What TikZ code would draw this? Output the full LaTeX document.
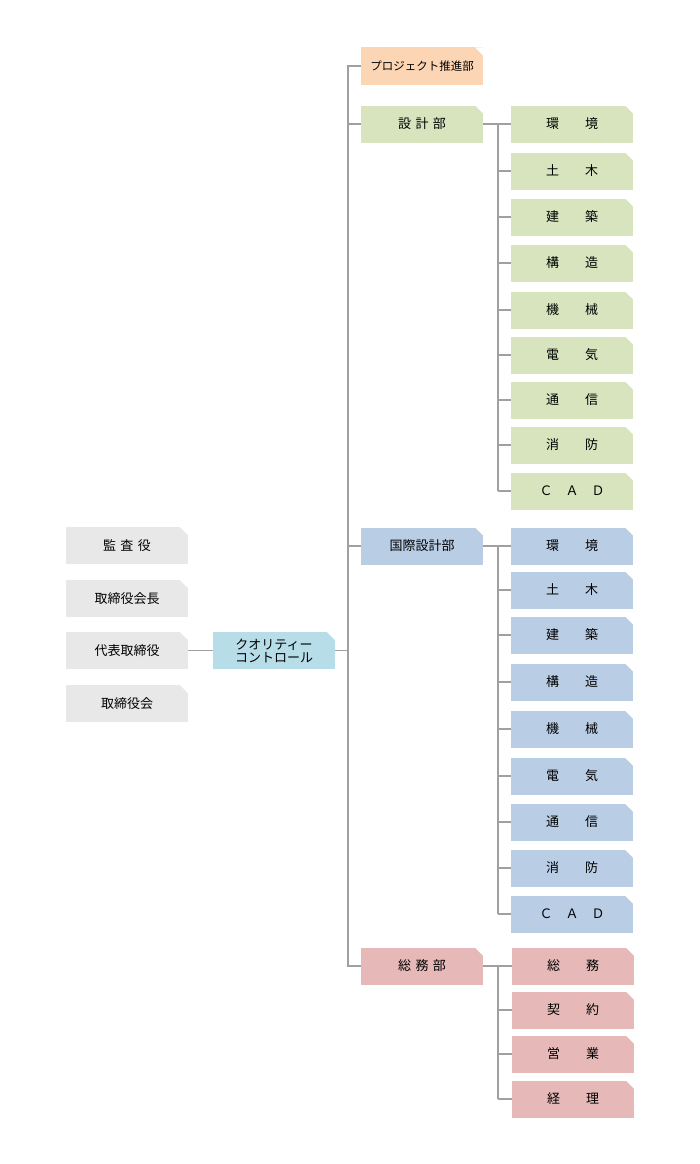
\documentclass[tikz,border=0pt]{standalone}
\usepackage{fontspec}
\setmainfont{Noto Sans CJK JP}
\begin{document}
\begin{tikzpicture}[x=1pt,y=-1pt,
  bx/.style={draw=none,minimum width=122pt,minimum height=37pt,inner sep=0pt,font=\fontsize{13}{15}\selectfont,
    path picture={\fill[white] ([xshift=-8pt]path picture bounding box.north east) -- (path picture bounding box.north east) -- ([yshift=-8pt]path picture bounding box.north east) -- cycle;}},
  gr/.style={bx,fill=gray!18},
  qc/.style={bx,fill=cyan!25!blue!8!white,fill={rgb,255:red,183;green,221;blue,232}},
  orn/.style={bx,fill={rgb,255:red,252;green,213;blue,180}},
  grn/.style={bx,fill={rgb,255:red,215;green,228;blue,190}},
  blu/.style={bx,fill={rgb,255:red,185;green,205;blue,229}},
  pnk/.style={bx,fill={rgb,255:red,230;green,185;blue,184}},
  ln/.style={draw={rgb,255:red,160;green,160;blue,160},line width=1.6pt}]
\useasboundingbox (0,0) rectangle (700,1164);
\node[gr] (g1) at (127,545.5) {監\,\,査\,\,役};
\node[gr] (g2) at (127,598.5) {取締役会長};
\node[gr] (g3) at (127,650.5) {代表取締役};
\node[gr] (g4) at (127,703.5) {取締役会};
\node[qc,align=center,font=\fontsize{13}{13}\selectfont] (qc) at (274,650.5) {クオリティー\\コントロール};
\coordinate (t0) at (348,66);
\coordinate (t1) at (348,966);
\coordinate (tq) at (348,650.5);
\node[orn,font=\fontsize{11.5}{13}\selectfont] (d0) at (422,66) {プロジェクト推進部};
\node[grn] (d1) at (422,124) {設\,\,計\,\,部};
\node[blu] (d2) at (422,546) {国際設計部};
\node[pnk] (d3) at (422,966) {総\,\,務\,\,部};
\draw[ln] (g3.east) -- (qc.west);
\draw[ln] (qc.east) -- (tq);
\draw[ln] (d0.west) -- (t0) -- (t1) -- (d3.west);
\draw[ln] (d1.west) -- (d1.west-|t0);
\draw[ln] (d2.west) -- (d2.west-|t0);
\foreach \y/\t [count=\i] in {124/環　　境,171/土　　木,217/建　　築,263/構　　造,310/機　　械,355/電　　気,400/通　　信,445/消　　防,491/Ｃ　Ａ　Ｄ}{
  \node[grn] (a\i) at (572,\y) {\t};
  \draw[ln] (a\i.west) -- ++(-13,0);
}
\draw[ln] (d1.east) -- (a1.west);
\draw[ln] ([xshift=-13pt]a1.west) -- ([xshift=-13pt]a9.west);
\foreach \y/\t [count=\i] in {546/環　　境,590/土　　木,635/建　　築,682/構　　造,729/機　　械,776/電　　気,822/通　　信,868/消　　防,914/Ｃ　Ａ　Ｄ}{
  \node[blu] (b\i) at (572,\y) {\t};
  \draw[ln] (b\i.west) -- ++(-13,0);
}
\draw[ln] (d2.east) -- (b1.west);
\draw[ln] ([xshift=-13pt]b1.west) -- ([xshift=-13pt]b9.west);
\foreach \y/\t [count=\i] in {966/総　　務,1010/契　　約,1054/営　　業,1099/経　　理}{
  \node[pnk] (c\i) at (573,\y) {\t};
  \draw[ln] (c\i.west) -- ++(-14,0);
}
\draw[ln] (d3.east) -- (c1.west);
\draw[ln] ([xshift=-14pt]c1.west) -- ([xshift=-14pt]c4.west);
\end{tikzpicture}
\end{document}
